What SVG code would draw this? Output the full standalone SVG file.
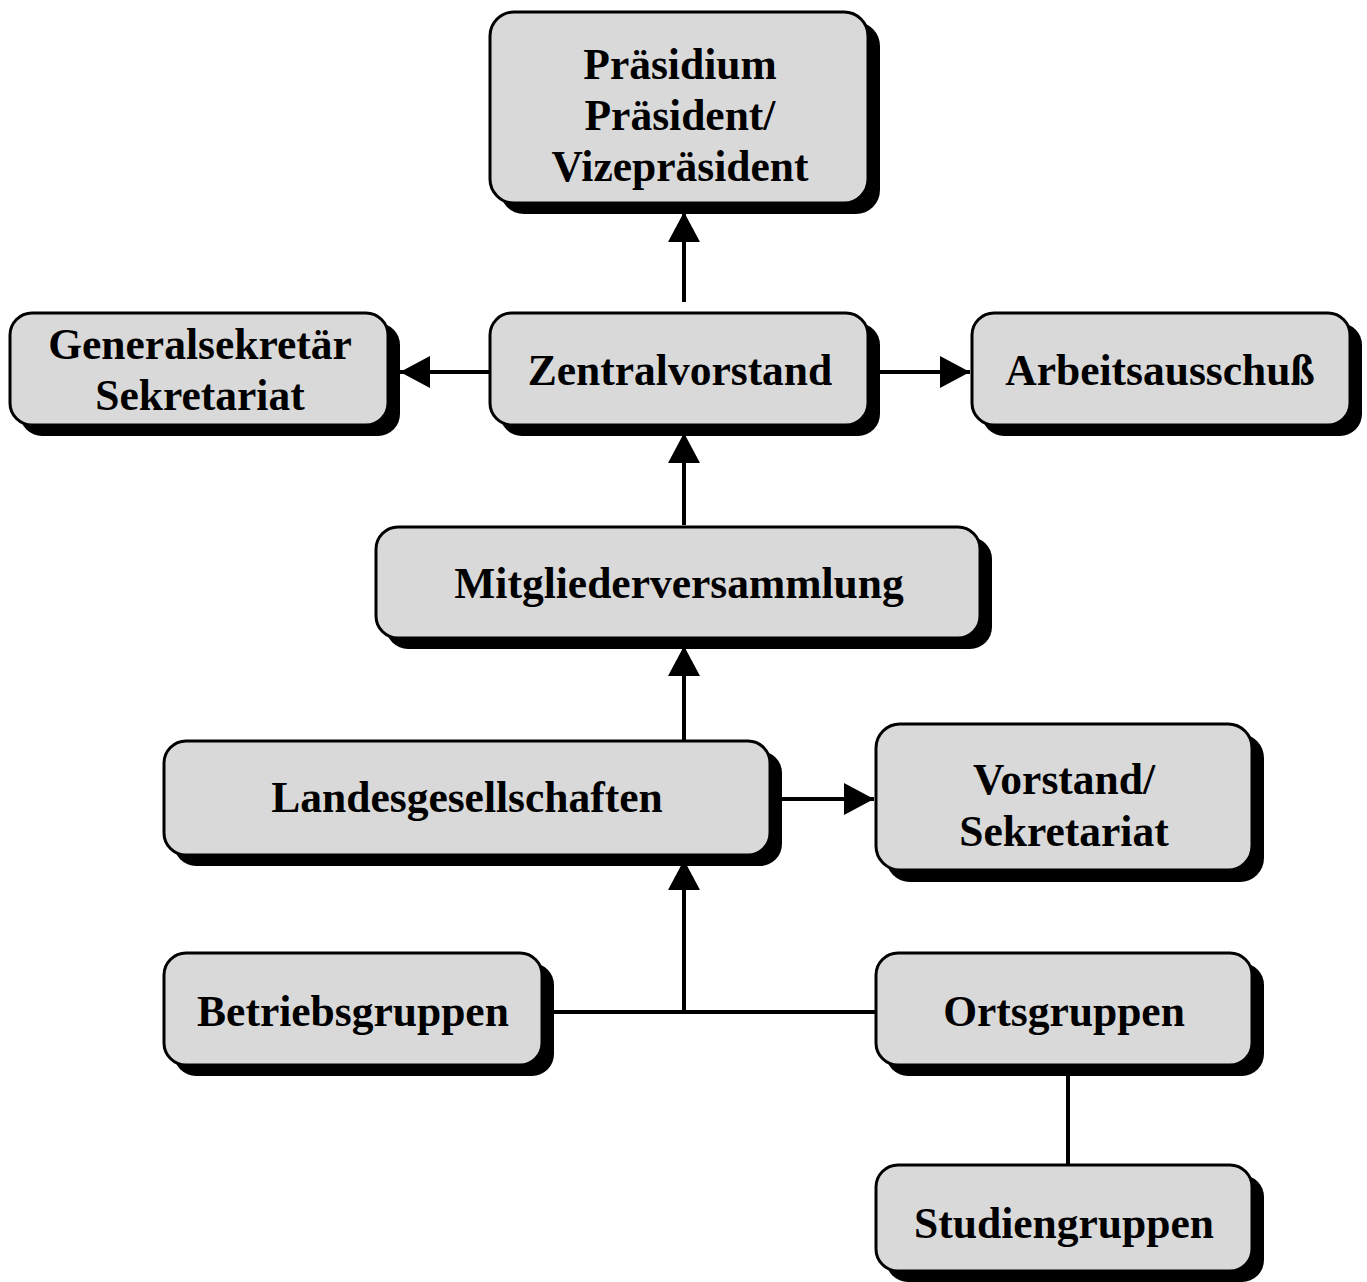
<svg xmlns="http://www.w3.org/2000/svg" width="1367" height="1282" viewBox="0 0 1367 1282">
<style>
.box{fill:#d9d9d9;stroke:#000;stroke-width:3}
.sh{fill:#000}
text{font-family:"Liberation Serif","Times New Roman",serif;font-weight:bold;font-size:43.5px;text-anchor:middle;fill:#000}
.ln{stroke:#000;stroke-width:4;fill:none}
</style>
<defs>
<marker id="ah" viewBox="0 0 30 32" refX="30" refY="16" markerWidth="30" markerHeight="32" markerUnits="userSpaceOnUse" orient="auto">
<path d="M0,0 L30,16 L0,32 Z" fill="#000"/>
</marker>
</defs>
<rect width="1367" height="1282" fill="#fff"/>
<g id="connectors">
<line class="ln" x1="684" y1="302" x2="684" y2="212" marker-end="url(#ah)"/>
<line class="ln" x1="490" y1="372" x2="400" y2="372" marker-end="url(#ah)"/>
<line class="ln" x1="880" y1="372" x2="970" y2="372" marker-end="url(#ah)"/>
<line class="ln" x1="684" y1="525" x2="684" y2="433" marker-end="url(#ah)"/>
<line class="ln" x1="684" y1="740" x2="684" y2="646" marker-end="url(#ah)"/>
<line class="ln" x1="782" y1="799" x2="874" y2="799" marker-end="url(#ah)"/>
<line class="ln" x1="552" y1="1012" x2="876" y2="1012"/>
<line class="ln" x1="684" y1="1012" x2="684" y2="860" marker-end="url(#ah)"/>
<line class="ln" x1="1068" y1="1073" x2="1068" y2="1165"/>
</g>
<g id="praesidium">
<rect class="sh" x="500" y="22" width="380" height="192" rx="24"/>
<rect class="box" x="490" y="12" width="378" height="191" rx="24"/>
<text x="680" y="79">Präsidium</text>
<text x="680" y="130">Präsident/</text>
<text x="680" y="181">Vizepräsident</text>
</g>
<g id="generalsekretaer">
<rect class="sh" x="20" y="323" width="380" height="113" rx="22"/>
<rect class="box" x="10" y="313" width="378" height="112" rx="22"/>
<text x="200" y="359">Generalsekretär</text>
<text x="200" y="410">Sekretariat</text>
</g>
<g id="zentralvorstand">
<rect class="sh" x="500" y="323" width="380" height="113" rx="22"/>
<rect class="box" x="490" y="313" width="378" height="112" rx="22"/>
<text x="680" y="385">Zentralvorstand</text>
</g>
<g id="arbeitsausschuss">
<rect class="sh" x="982" y="323" width="380" height="113" rx="22"/>
<rect class="box" x="972" y="313" width="378" height="112" rx="22"/>
<text x="1160" y="385">Arbeitsausschuß</text>
</g>
<g id="mitgliederversammlung">
<rect class="sh" x="386" y="537" width="606" height="112" rx="22"/>
<rect class="box" x="376" y="527" width="604" height="111" rx="22"/>
<text x="679" y="598">Mitgliederversammlung</text>
</g>
<g id="landesgesellschaften">
<rect class="sh" x="174" y="751" width="608" height="115" rx="22"/>
<rect class="box" x="164" y="741" width="606" height="114" rx="22"/>
<text x="467" y="812">Landesgesellschaften</text>
</g>
<g id="vorstand">
<rect class="sh" x="886" y="734" width="378" height="148" rx="24"/>
<rect class="box" x="876" y="724" width="376" height="146" rx="24"/>
<text x="1064" y="794">Vorstand/</text>
<text x="1064" y="846">Sekretariat</text>
</g>
<g id="betriebsgruppen">
<rect class="sh" x="174" y="963" width="380" height="113" rx="22"/>
<rect class="box" x="164" y="953" width="378" height="112" rx="22"/>
<text x="353" y="1026">Betriebsgruppen</text>
</g>
<g id="ortsgruppen">
<rect class="sh" x="886" y="963" width="378" height="113" rx="22"/>
<rect class="box" x="876" y="953" width="376" height="112" rx="22"/>
<text x="1064" y="1026">Ortsgruppen</text>
</g>
<g id="studiengruppen">
<rect class="sh" x="886" y="1175" width="378" height="107" rx="22"/>
<rect class="box" x="876" y="1165" width="376" height="106" rx="22"/>
<text x="1064" y="1238">Studiengruppen</text>
</g>
</svg>
